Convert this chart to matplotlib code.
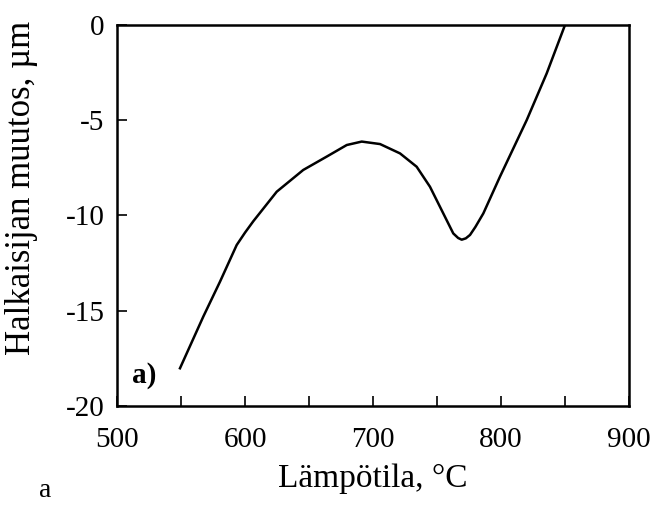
import matplotlib.pyplot as plt

# luettu kuvasta
lampotila = [549.2, 567.4, 580.5, 593.5, 600.0, 606.5, 624.8, 645.5, 663.8, 679.5, 691.2,
             705.5, 721.1, 734.1, 744.5, 754.9, 762.7, 766.5, 769.3, 772.5, 775.8,
             780.0, 786.2, 799.2, 820.1, 835.7, 850.0]
muutos = [-18.02, -15.31, -13.47, -11.55, -10.9, -10.3, -8.75, -7.61, -6.91, -6.30, -6.12,
          -6.25, -6.74, -7.44, -8.49, -9.89, -10.94, -11.18, -11.27, -11.2, -11.02,
          -10.6, -9.89, -7.96, -4.99, -2.54, 0.0]

x_ticks = [500, 600, 700, 800, 900]
y_ticks = [0, -5, -10, -15, -20]


def main():
    plt.rcParams['font.family'] = ['Liberation Serif', 'DejaVu Serif']

    fig = plt.figure(figsize=(6.5, 5.08), dpi=100)
    ax = fig.add_axes([0.18, 0.2008, 0.7877, 0.75])

    ax.plot(lampotila, muutos, color='black', lw=1.8)

    ax.set_xlim(500, 900)
    ax.set_ylim(-20, 0)
    ax.set_xticks(range(500, 901, 50))
    ax.set_xticklabels([str(t) if t in x_ticks else '' for t in range(500, 901, 50)])
    ax.set_yticks(y_ticks)
    ax.set_yticklabels([str(t) for t in y_ticks])
    ax.tick_params(direction='in', length=7, width=1.2, labelsize=21,
                   top=False, right=False, pad=9)
    ax.tick_params(axis='x', pad=15)
    for s in ax.spines.values():
        s.set_linewidth(1.8)

    ax.set_xlabel('Lämpötila, °C', fontsize=24, labelpad=8)
    ax.set_ylabel('Halkaisijan muutos, µm', fontsize=25)
    ax.yaxis.set_label_coords(-0.154, 0.572)

    ax.text(0.03, 0.08, 'a)', transform=ax.transAxes, fontsize=21,
            fontweight='bold', ha='left', va='center')
    fig.text(0.07, 0.035, 'a', fontsize=20, ha='center', va='center')

    fig.savefig('out.png', dpi=100)


if __name__ == "__main__":
    main()
